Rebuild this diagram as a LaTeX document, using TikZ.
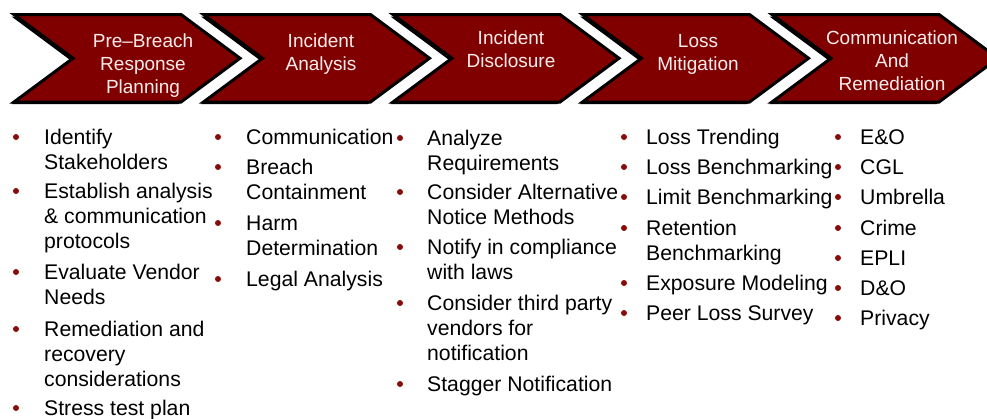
\documentclass[tikz,border=0pt]{standalone}
\usepackage{fontspec}
\setmainfont{Liberation Sans}
\definecolor{chevred}{RGB}{128,0,0}
\definecolor{chevtext}{RGB}{250,236,236}
\definecolor{bulletred}{RGB}{139,10,10}
\tikzset{
  btext/.style={anchor=base west, inner sep=0pt, font=\fontsize{21.2}{25}\selectfont, text=black},
  ctext/.style={anchor=base, inner sep=0pt, font=\fontsize{19}{23}\selectfont, text=chevtext},
  bdot/.style={circle, fill=bulletred, minimum size=6pt, inner sep=0pt, draw=none},
  chevbody/.style={fill=chevred, draw=black, line width=3pt, miter limit=10},
  chevshadow/.style={fill=black},
}
\newcommand\drawchev[1]{%
  \fill[chevshadow, shift={(-2.5,2)}] (#1,14.5) -- (#1+167,14.5) -- (#1+226,58.25) -- (#1+167,102) -- (#1,102) -- (#1+59,58.25) -- cycle;
  \draw[chevbody] (#1,14.5) -- (#1+167,14.5) -- (#1+226,58.25) -- (#1+167,102) -- (#1,102) -- (#1+59,58.25) -- cycle;
}
\newcommand\chevlabel[4]{%
  \foreach \t [count=\k from 0] in {#4} {\node[ctext] (#1-\k) at (#2,#3+23*\k) {\t};}
}
\newcommand\bitem[5]{%
  \node[bdot] (#1) at (#2,#4) {};
  \foreach \t [count=\k from 0] in {#5} {\node[btext] (#1-\k) at (#3,#4+7.5+25*\k) {\t};}
}
\begin{document}
\begin{tikzpicture}[x=1pt,y=-1pt]
\useasboundingbox (0,0) rectangle (987,418);
\clip (0,0) rectangle (987,418);
\fill[white] (0,0) rectangle (987,418);
% chevrons
\drawchev{14}
\drawchev{203.5}
\drawchev{393}
\drawchev{582.5}
\drawchev{772}
\chevlabel{h1}{143}{47}{Pre--Breach,Response,Planning}
\chevlabel{h2}{321}{47}{Incident,Analysis}
\chevlabel{h3}{511}{44}{Incident,Disclosure}
\chevlabel{h4}{698}{47}{Loss,Mitigation}
\chevlabel{h5}{892}{44}{Communication,And,Remediation}
% column 1
\bitem{a1}{16}{44}{137}{Identify,Stakeholders}
\bitem{a2}{16}{44}{191}{Establish analysis,\& communication,protocols}
\bitem{a3}{16}{44}{272}{Evaluate Vendor,Needs}
\bitem{a4}{16}{44}{329}{Remediation and,recovery,considerations}
\bitem{a5}{16}{44}{408}{Stress test plan}
% column 2
\bitem{b1}{218}{246}{137}{Communication}
\bitem{b2}{218}{246}{167}{Breach,Containment}
\bitem{b3}{218}{246}{223}{Harm,Determination}
\bitem{b4}{218}{246}{279}{Legal Analysis}
% column 3
\bitem{c1}{400}{427}{138}{Analyze,Requirements}
\bitem{c2}{400}{427}{192}{Consider Alternative,Notice Methods}
\bitem{c3}{400}{427}{247}{Notify in compliance,with laws}
\bitem{c4}{400}{427}{303}{Consider third party,vendors for,notification}
\bitem{c5}{400}{427}{384}{Stagger Notification}
% column 4
\bitem{d1}{624}{646}{137}{Loss Trending}
\bitem{d2}{624}{646}{167}{Loss Benchmarking}
\bitem{d3}{624}{646}{197}{Limit Benchmarking}
\bitem{d4}{624}{646}{228}{Retention,Benchmarking}
\bitem{d5}{624}{646}{283}{Exposure Modeling}
\bitem{d6}{624}{646}{313}{Peer Loss Survey}
% column 5
\bitem{e1}{838}{860}{137}{E\&O}
\bitem{e2}{838}{860}{167}{CGL}
\bitem{e3}{838}{860}{197}{Umbrella}
\bitem{e4}{838}{860}{228}{Crime}
\bitem{e5}{838}{860}{258}{EPLI}
\bitem{e6}{838}{860}{288}{D\&O}
\bitem{e7}{838}{860}{318}{Privacy}
\end{tikzpicture}
\end{document}
